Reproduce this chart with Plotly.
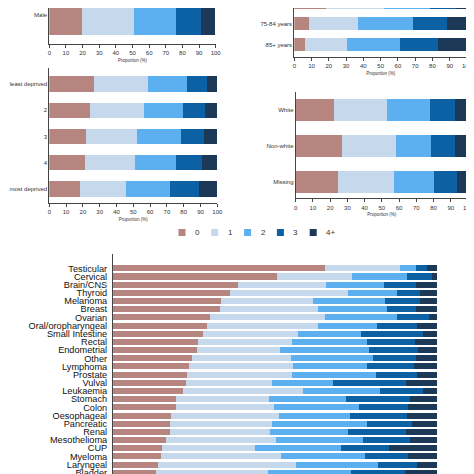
import plotly.graph_objects as go

levels = ["0", "1", "2", "3", "4+"]
colors = ["#b6857f", "#c6d9ec", "#5db0f0", "#0b61a4", "#1c3a57"]

sex_cats = ["Male"]
sex_vals = [[20.0], [31.3], [25.3], [14.9], [8.5]]

dep_cats = ["1 - least deprived", "2", "3", "4", "5 - most deprived"]
dep_vals = [
    [26.8, 24.6, 21.8, 21.7, 18.3],
    [32.1, 31.8, 30.6, 29.7, 27.8],
    [23.5, 23.2, 26.0, 24.4, 26.2],
    [11.6, 13.5, 13.9, 15.5, 16.8],
    [6.0, 6.9, 7.7, 8.7, 10.9],
]

age_cats = ["65-74 years", "75-84 years", "85+ years"]
age_vals = [
    [18.5, 8.7, 6.6],
    [33.8, 28.2, 24.3],
    [26.5, 31.8, 30.5],
    [14.8, 20.1, 22.2],
    [6.4, 11.2, 16.4],
]

eth_cats = ["White", "Non-white", "Missing"]
eth_vals = [
    [22.1, 26.5, 24.6],
    [30.7, 31.3, 32.0],
    [25.0, 20.3, 23.7],
    [14.3, 14.4, 12.9],
    [7.9, 7.5, 6.8],
]

sites = ["Testicular", "Cervical", "Brain/CNS", "Thyroid", "Melanoma", "Breast",
         "Ovarian", "Oral/oropharyngeal", "Small Intestine", "Rectal", "Endometrial",
         "Other", "Lymphoma", "Prostate", "Vulval", "Leukaemia", "Stomach", "Colon",
         "Oesophageal", "Pancreatic", "Renal", "Mesothelioma", "CUP", "Myeloma",
         "Laryngeal", "Bladder"]
site_vals = [
    [65.5, 50.6, 38.6, 36.1, 33.3, 33.0, 29.9, 29.1, 27.9, 26.2, 25.8, 24.5, 23.5,
     22.7, 22.4, 21.5, 19.4, 19.4, 17.8, 17.6, 17.6, 16.3, 15.2, 14.7, 14.0, 13.2],
    [23.0, 23.2, 27.1, 36.3, 28.4, 30.3, 35.4, 34.1, 29.3, 29.0, 25.8, 30.4, 32.0,
     32.6, 26.7, 37.0, 28.7, 30.2, 33.3, 31.5, 30.8, 34.0, 28.5, 37.2, 42.6, 34.5],
    [5.0, 16.9, 17.8, 15.3, 22.2, 21.3, 22.4, 18.3, 19.3, 23.2, 27.5, 25.3, 22.9,
     25.8, 18.8, 24.0, 23.7, 26.3, 22.1, 29.3, 24.2, 27.0, 26.8, 25.9, 25.1, 25.8],
    [3.5, 7.8, 10.0, 7.1, 10.9, 9.0, 9.7, 12.3, 19.1, 14.7, 15.0, 13.3, 14.4,
     12.8, 22.6, 13.1, 20.0, 15.1, 17.5, 13.9, 17.8, 14.3, 14.8, 13.2, 12.1, 16.7],
    [3.0, 1.5, 6.5, 5.2, 5.2, 6.4, 2.6, 6.2, 4.4, 6.9, 5.9, 6.5, 7.2,
     6.1, 9.5, 4.4, 8.2, 9.0, 9.3, 7.7, 9.6, 8.4, 14.7, 9.0, 6.2, 9.8],
]

# page has an 8px body margin: figure is 466px and layout positions are in screen px - 8
OFF = 8
W = H = 466
FONT = "Liberation Sans, Arial, sans-serif"


def fx(s):
    return (s - OFF) / W


def fy(s):
    return 1 - (s - OFF) / H


panels = [
    # suffix, cats, vals, x screen px, y screen px (top, bottom), y range, bar width, show x axis
    ("", sex_cats, sex_vals, (49.3, 215.7), (8, 44), [-0.435, 0.105], 0.6, True),
    ("2", dep_cats, dep_vals, (49.3, 217.3), (68, 203), [4.53, -0.61], 0.58, True),
    ("3", age_cats, age_vals, (294.3, 467), (8, 57), [2.6, 0.245], 0.6, True),
    ("4", eth_cats, eth_vals, (295.7, 468), (91.7, 198.3), [2.458, -0.503], 0.6, True),
    ("5", sites, site_vals, (113, 437), (254, 474), [25.15, -1.75], 0.74, False),
]

fig = go.Figure()
layout = {}
for pi, (sfx, cats, vals, xpx, ypx, yr, bw, showx) in enumerate(panels):
    for li, lev in enumerate(levels):
        fig.add_trace(go.Bar(
            x=vals[li], y=cats, orientation="h",
            name=lev, showlegend=False,
            marker=dict(color=colors[li], line=dict(width=0)),
            width=bw, xaxis="x" + sfx, yaxis="y" + sfx,
            hoverinfo="skip",
        ))
    xa = dict(
        domain=[fx(xpx[0]), min(fx(xpx[1]), 1.0)], range=[0, 100], anchor="y" + sfx,
        showgrid=False, zeroline=False, fixedrange=True, automargin=False,
    )
    if showx:
        xa.update(
            tickmode="linear", tick0=0, dtick=10, ticks="outside", ticklen=3,
            tickcolor="#444", showline=True, linecolor="#444", linewidth=1,
            tickfont=dict(size=6, color="#333", family=FONT),
            title=dict(text="Proportion (%)", font=dict(size=4.5, color="#333", family=FONT), standoff=3),
        )
    else:
        xa.update(showticklabels=False, showline=False, ticks="")
    ya = dict(
        domain=[max(fy(ypx[1]), 0.0), min(fy(ypx[0]), 1.0)], anchor="x" + sfx,
        type="category", categoryorder="array", categoryarray=cats,
        tickmode="array", tickvals=cats, ticktext=cats,
        range=yr, showgrid=False, zeroline=False, showline=True,
        linecolor="#444", linewidth=1, ticks="", fixedrange=True, automargin=False,
        ticklabelstandoff=(3 if sfx == "5" else 0),
        tickfont=dict(size=(9.2 if sfx == "5" else 6), color=("#111" if sfx == "5" else "#333"), family=FONT),
    )
    layout["xaxis" + sfx] = xa
    layout["yaxis" + sfx] = ya

# legend (keys + labels), laid out in a row
shapes = []
annotations = []
LEG_X0, LEG_DX, LEG_Y, SQ = 182, 32.8, 232.5, 7
for i, (lev, col) in enumerate(zip(levels, colors)):
    cx = LEG_X0 + LEG_DX * i
    shapes.append(dict(
        type="rect", xref="paper", yref="paper",
        x0=fx(cx - SQ / 2), x1=fx(cx + SQ / 2), y0=fy(LEG_Y + SQ / 2), y1=fy(LEG_Y - SQ / 2),
        fillcolor=col, line=dict(width=0),
    ))
    annotations.append(dict(
        text=lev, xref="paper", yref="paper", x=fx(cx + 11), y=fy(LEG_Y),
        xanchor="left", yanchor="middle", showarrow=False,
        font=dict(size=8, color="#333", family=FONT),
    ))

fig.update_layout(
    width=W, height=H, margin=dict(l=0, r=0, t=0, b=0, autoexpand=False),
    paper_bgcolor="white", plot_bgcolor="white",
    barmode="stack", bargap=0,
    font=dict(family=FONT),
    showlegend=False,
    shapes=shapes, annotations=annotations,
    **layout,
)

fig.write_html("out.html")
